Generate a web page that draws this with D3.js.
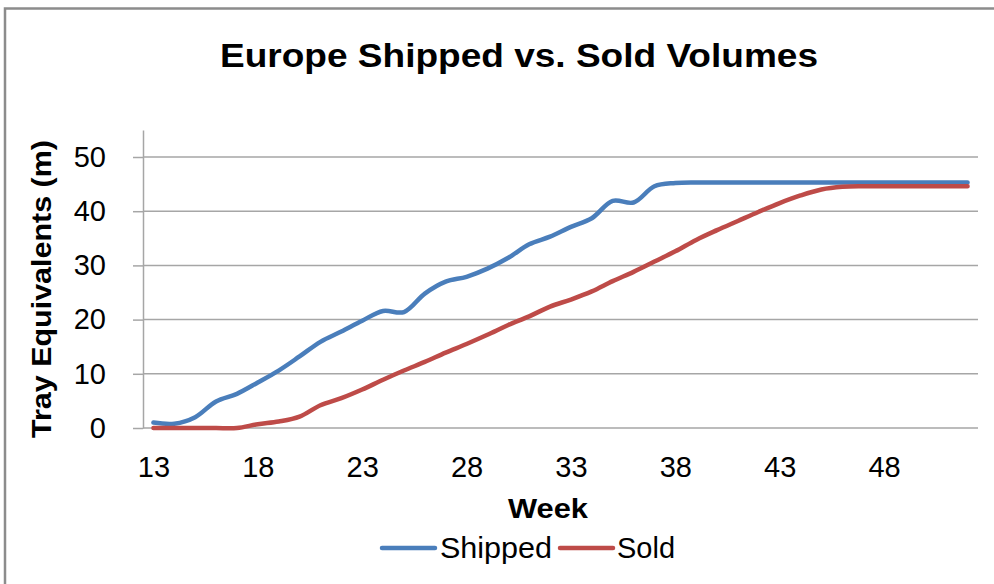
<!DOCTYPE html>
<html>
<head>
<meta charset="utf-8">
<script src="https://cdn.jsdelivr.net/npm/d3@7"></script>
<style>
  body { margin: 0; background: #fff; }
  svg { display: block; font-family: "Liberation Sans", Arial, sans-serif; }
</style>
</head>
<body>
<div id="container"></div>
<script>
const weeks = [13, 14, 15, 16, 17, 18, 19, 20, 21, 22, 23, 24, 25, 26, 27, 28, 29, 30, 31, 32,
  33, 34, 35, 36, 37, 38, 39, 40, 41, 42, 43, 44, 45, 46, 47, 48, 49, 50, 51, 52];
const shipped = [1.0, 0.8, 2.0, 4.9, 6.3, 8.4, 10.6, 13.2, 15.9, 17.8, 19.8, 21.6, 21.4, 24.8, 27.0, 27.9,
  29.4, 31.4, 33.9, 35.3, 37.1, 38.7, 41.9, 41.6, 44.6, 45.2, 45.3, 45.3, 45.3, 45.3, 45.3, 45.3,
  45.3, 45.3, 45.3, 45.3, 45.3, 45.3, 45.3, 45.3];
const sold = [0, 0, 0, 0, 0, 0.7, 1.2, 2.1, 4.2, 5.5, 7.1, 8.9, 10.6, 12.2, 13.9, 15.5,
  17.2, 19.0, 20.6, 22.4, 23.7, 25.2, 27.1, 28.8, 30.7, 32.6, 34.7, 36.5, 38.2, 39.9, 41.5, 42.9,
  44.0, 44.5, 44.6, 44.6, 44.6, 44.6, 44.6, 44.6];
const xTicks = [13, 18, 23, 28, 33, 38, 43, 48];
const yTicks = [0, 10, 20, 30, 40, 50];

const series = [
  {name: "Shipped", values: shipped, color: "#4a7ebb"},
  {name: "Sold", values: sold, color: "#be4b48"}
];

const W = 994, H = 584;
const svg = d3.select("#container").append("svg")
  .attr("width", W)
  .attr("height", H);

// outer chart frame
svg.append("rect")
  .attr("x", 5).attr("y", 8.5)
  .attr("width", W + 20).attr("height", H + 20)
  .attr("fill", "#fff")
  .attr("stroke", "#8c8c8c")
  .attr("stroke-width", 2.5);

const x = d3.scalePoint()
  .domain(weeks)
  .range([143, 978])
  .padding(0.5);

const y = d3.scaleLinear()
  .domain([0, 55])
  .range([428, 428 - 55 * 5.42]);

// gridlines
svg.append("g")
  .selectAll("line")
  .data(yTicks.filter(d => d > 0))
  .join("line")
  .attr("x1", 143).attr("x2", 978)
  .attr("y1", d => y(d)).attr("y2", d => y(d))
  .attr("stroke", "#a6a6a6")
  .attr("stroke-width", 1.5);

// y axis
const yAxis = svg.append("g")
  .attr("transform", "translate(143,0)")
  .call(d3.axisLeft(y).tickValues(yTicks).tickSizeInner(10).tickSizeOuter(0).tickPadding(27));
yAxis.select(".domain").attr("stroke", "#a6a6a6").attr("stroke-width", 1.5);
yAxis.selectAll(".tick line").attr("stroke", "#a6a6a6").attr("stroke-width", 1.5);
yAxis.selectAll("text")
  .attr("font-size", 29)
  .attr("font-family", "Liberation Sans, Arial, sans-serif")
  .attr("fill", "#000");

// x axis
const xAxis = svg.append("g")
  .attr("transform", "translate(0,428)")
  .call(d3.axisBottom(x).tickValues(xTicks).tickSize(0).tickPadding(28));
xAxis.select(".domain").attr("d", "M143,0H978").attr("stroke", "#a6a6a6").attr("stroke-width", 1.5);
xAxis.selectAll("text")
  .attr("font-size", 29)
  .attr("font-family", "Liberation Sans, Arial, sans-serif")
  .attr("fill", "#000");

// lines
const line = d3.line()
  .x((d, i) => x(weeks[i]))
  .y(d => y(d))
  .curve(d3.curveCatmullRom);

series.forEach(s => {
  svg.append("path")
    .datum(s.values)
    .attr("fill", "none")
    .attr("stroke", s.color)
    .attr("stroke-width", 4.5)
    .attr("stroke-linecap", "round")
    .attr("stroke-linejoin", "round")
    .attr("d", line);
});

// title
svg.append("text")
  .attr("x", 519).attr("y", 67)
  .attr("text-anchor", "middle")
  .attr("font-size", 34)
  .attr("font-weight", "bold")
  .attr("textLength", 598)
  .attr("lengthAdjust", "spacingAndGlyphs")
  .text("Europe Shipped vs. Sold Volumes");

// axis titles
svg.append("text")
  .attr("x", 548).attr("y", 518)
  .attr("text-anchor", "middle")
  .attr("font-size", 28)
  .attr("font-weight", "bold")
  .attr("textLength", 80)
  .attr("lengthAdjust", "spacingAndGlyphs")
  .text("Week");

svg.append("text")
  .attr("transform", "translate(51,289) rotate(-90)")
  .attr("text-anchor", "middle")
  .attr("font-size", 28)
  .attr("font-weight", "bold")
  .attr("textLength", 298)
  .attr("lengthAdjust", "spacingAndGlyphs")
  .text("Tray Equivalents (m)");

// legend
const legendItems = [
  {s: series[0], x1: 382, x2: 435, tx: 440, tw: 112},
  {s: series[1], x1: 560, x2: 613, tx: 617, tw: 58}
];
legendItems.forEach(l => {
  svg.append("line")
    .attr("x1", l.x1).attr("x2", l.x2)
    .attr("y1", 548).attr("y2", 548)
    .attr("stroke", l.s.color)
    .attr("stroke-width", 4.5)
    .attr("stroke-linecap", "round");
  svg.append("text")
    .attr("x", l.tx).attr("y", 558)
    .attr("font-size", 29)
    .attr("textLength", l.tw)
    .attr("lengthAdjust", "spacingAndGlyphs")
    .text(l.s.name);
});
</script>
</body>
</html>
